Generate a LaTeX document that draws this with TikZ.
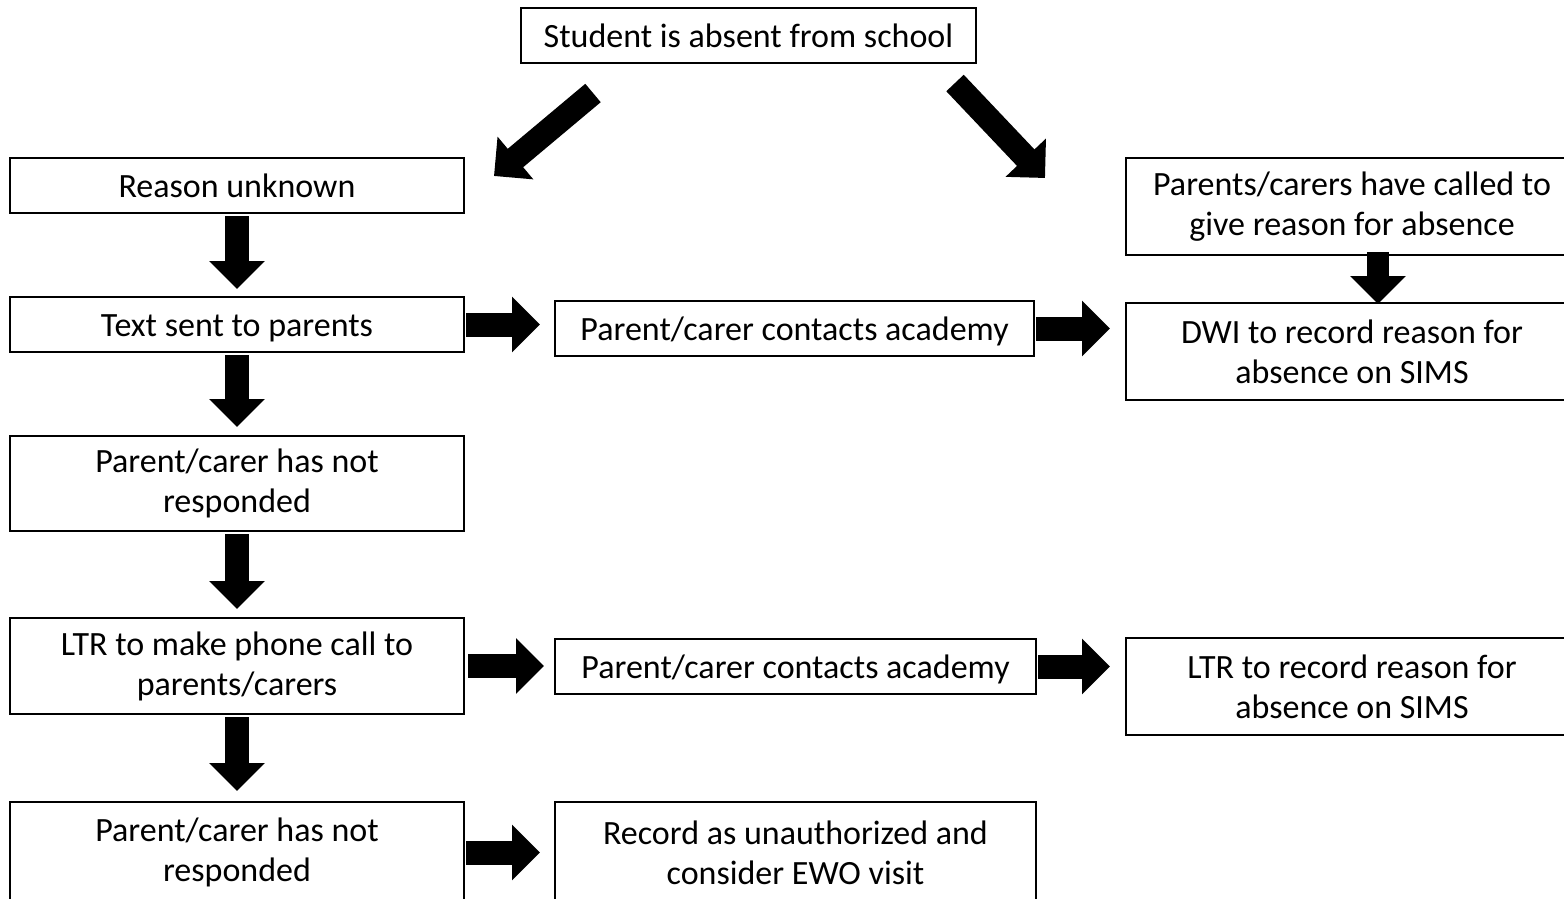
\documentclass[tikz,border=0pt]{standalone}
\usepackage{fontspec}
\setmainfont{Carlito}
\usetikzlibrary{arrows.meta}

\begin{document}
\begin{tikzpicture}[yscale=-1
  ,pbox/.style={draw=black,line width=2pt,fill=white,align=center,inner sep=0pt,font=\fontsize{34}{40}\selectfont}
  ,pline/.style={pbox,text height=30pt,text depth=6pt}
  ,pflow/.style={draw=black,line width=24pt,-{Triangle[length=28pt,width=54pt]}}
]
\useasboundingbox (0pt,0pt) rectangle (1564pt,898pt);
\clip (0pt,0pt) rectangle (1564pt,898pt);

% --- Boxes ---
\node[pline,minimum width=455pt,minimum height=55pt] (absent) at (748.5pt,35.5pt) {Student is absent from school};

\node[pline,minimum width=454pt,minimum height=55pt] (unknown) at (237pt,185.5pt) {Reason unknown};
\node[pline,minimum width=454pt,minimum height=55pt] (textsent) at (237pt,324.5pt) {Text sent to parents};
\node[pbox,minimum width=454pt,minimum height=95pt] (noreply1) at (237pt,483.5pt) {Parent/carer has not\\responded};
\node[pbox,minimum width=454pt,minimum height=96pt] (ltrcall) at (237pt,666pt) {LTR to make phone call to\\parents/carers};
\node[pbox,minimum width=454pt,minimum height=101pt] (noreply2) at (237pt,852.5pt) {Parent/carer has not\\responded};

\node[pline,minimum width=479pt,minimum height=55pt] (contact1) at (794.5pt,328.5pt) {Parent/carer contacts academy};
\node[pline,minimum width=481pt,minimum height=55pt] (contact2) at (795.5pt,666.5pt) {Parent/carer contacts academy};
\node[pbox,minimum width=481pt,minimum height=101pt] (unauth) at (795.5pt,852.5pt) {Record as unauthorized and\\consider EWO visit};

\node[pbox,minimum width=452pt,minimum height=97pt] (called) at (1352pt,206.5pt) {Parents/carers have called to\\give reason for absence};
\node[pbox,minimum width=452pt,minimum height=97pt] (dwi) at (1352pt,351.5pt) {DWI to record reason for\\absence on SIMS};
\node[pbox,minimum width=452pt,minimum height=97pt] (ltrrec) at (1352pt,686.5pt) {LTR to record reason for\\absence on SIMS};

% --- Slanted arrows from the top box ---
\coordinate (leftfrom) at (593pt,93pt);
\coordinate (leftto) at (494pt,176pt);
\coordinate (rightfrom) at (955pt,83pt);
\coordinate (rightto) at (1045pt,178pt);
\draw[pflow] (leftfrom) -- (leftto);
\draw[pflow] (rightfrom) -- (rightto);

% --- Down arrows ---
\draw[pflow,shorten <=2pt,shorten >=7pt] (unknown.south) -- (textsent.north);
\draw[pflow,shorten <=2pt,shorten >=8pt] (textsent.south) -- (noreply1.north);
\draw[pflow,shorten <=2pt,shorten >=8pt] (noreply1.south) -- (ltrcall.north);
\draw[pflow,shorten <=2pt,shorten >=10pt] (ltrcall.south) -- (noreply2.north);
\draw[pflow,line width=22pt,shorten <=-4pt,shorten >=-2pt] ([xshift=26pt]called.south) -- ([xshift=26pt]dwi.north);

% --- Right arrows ---
\draw[pflow,shorten <=1pt,shorten >=14pt] (textsent.east) -- (textsent.east -| contact1.west);
\draw[pflow,shorten <=1pt,shorten >=15pt] (contact1.east) -- (contact1.east -| dwi.west);
\draw[pflow,shorten <=3pt,shorten >=10pt] (ltrcall.east) -- (ltrcall.east -| contact2.west);
\draw[pflow,shorten <=1pt,shorten >=15pt] (contact2.east) -- (contact2.east -| ltrrec.west);
\draw[pflow,shorten <=1pt,shorten >=14pt] (noreply2.east) -- (noreply2.east -| unauth.west);

\end{tikzpicture}
\end{document}
